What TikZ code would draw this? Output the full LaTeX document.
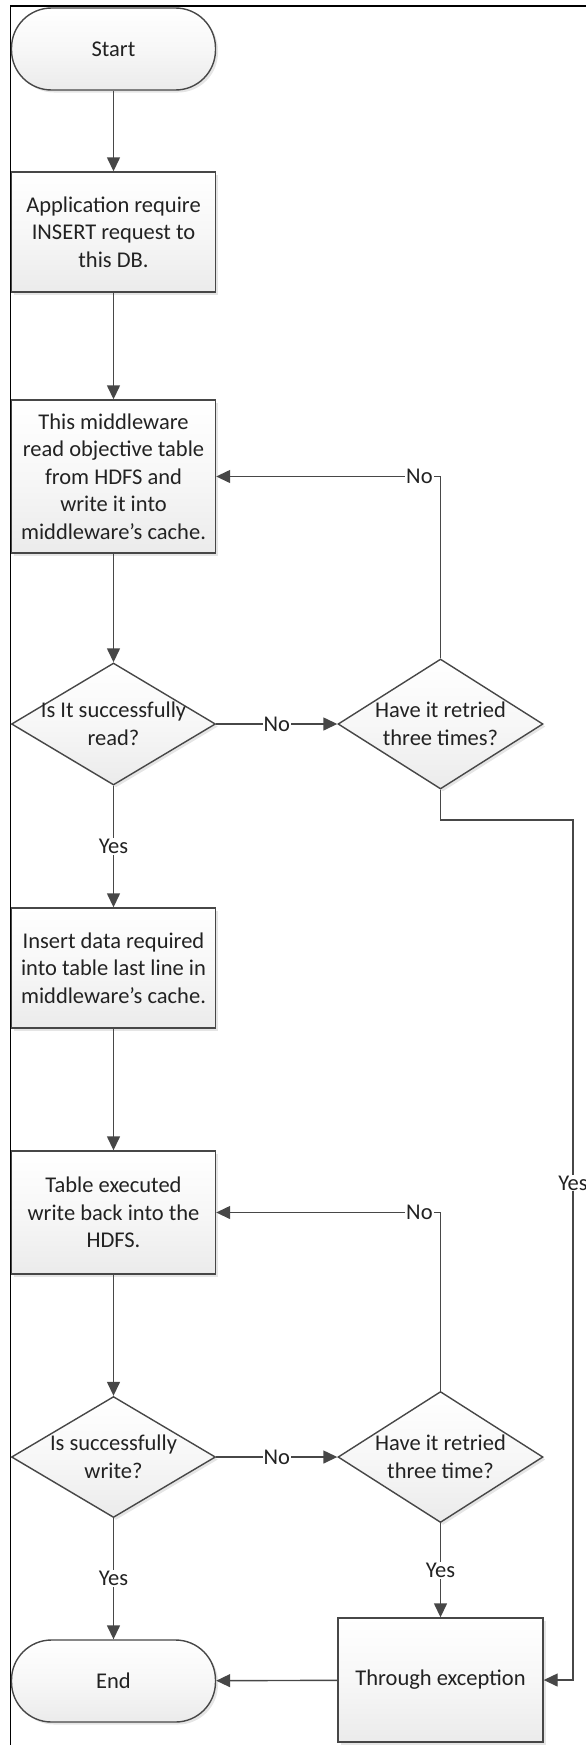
\documentclass[tikz,border=0pt]{standalone}
\usepackage{fontspec}
\setmainfont{Carlito}
\usetikzlibrary{shapes.geometric,arrows.meta,shadows}
\definecolor{edge}{HTML}{474747}
\definecolor{ink}{HTML}{222222}
\definecolor{fillbot}{HTML}{EBEBEB}
\newcommand{\flowfont}{\fontsize{22.5}{27.5}\selectfont}
\tikzset{
  base/.style={draw=edge, line width=1.4pt, top color=white, bottom color=fillbot,
    middle color=white!60!fillbot,
    text=ink, font=\flowfont,
    drop shadow={shadow xshift=2.5pt, shadow yshift=-2.5pt, fill=black, opacity=0.10}},
  procbox/.style={base, rectangle, minimum width=204pt, minimum height=#1,
    align=center, inner sep=0pt},
  termbox/.style={base, rectangle, rounded corners=40pt, minimum width=204pt,
    minimum height=82pt, inner sep=0pt},
  decbox/.style 2 args={base, diamond, minimum width=#1, minimum height=#2, inner sep=0pt},
  dectext/.style={text=ink, font=\flowfont, align=center, inner sep=0pt},
  flow/.style={draw=edge, line width=1.4pt, -{Triangle[length=14pt,width=13pt]}},
  lbl/.style={fill=white, text=ink, font=\flowfont, inner sep=1pt},
}
\begin{document}
\begin{tikzpicture}[x=1pt,y=-1pt]
\useasboundingbox (0,0) rectangle (586,1745);
% outer frame (top and left edges)
\draw[black, line width=1.5pt] (10.5,1745) -- (10.5,6) -- (586,6);

% left column
\node[termbox] (start) at (113.5,49) {Start};
\node[procbox=120pt] (b1) at (113.5,232) {Application require\\INSERT request to\\this DB.};
\node[procbox=153pt] (b2) at (113.5,476.5) {This middleware\\read objective table\\from HDFS and\\write it into\\middleware’s cache.};
\node[decbox={204pt}{122pt}] (d1) at (113.5,724) {};
\node[dectext] (d1t) at (113.5,724) {Is It successfully\\read?};
\node[procbox=120pt] (b3) at (113.5,968) {Insert data required\\into table last line in\\middleware’s cache.};
\node[procbox=123pt] (b4) at (113.5,1212.5) {Table executed\\write back into the\\HDFS.};
\node[decbox={204pt}{121pt}] (d3) at (113.5,1457) {};
\node[dectext] (d3t) at (113.5,1457) {Is successfully\\write?};
\node[termbox] (endn) at (113.5,1681) {End};

% right column
\node[decbox={205pt}{130pt}] (d2) at (440.5,724) {};
\node[dectext] (d2t) at (440.5,724) {Have it retried\\three times?};
\node[decbox={205pt}{131pt}] (d4) at (440.5,1457) {};
\node[dectext] (d4t) at (440.5,1457) {Have it retried\\three time?};
\node[procbox=124pt, minimum width=205pt] (exc) at (440.5,1680) {Through exception};

\coordinate (r1) at (573,820);

% connectors
\draw[flow] (start) -- (b1);
\draw[flow] (b1) -- (b2);
\draw[flow] (b2) -- (d1);
\draw[flow] (d1) -- node[lbl]{No} (d2);
\draw[flow] (d2.north) |- node[lbl, pos=0.547]{No} (b2.east);
\draw[flow] (d1.south) -- node[lbl]{Yes} (b3.north);
\draw[flow] (b3) -- (b4);
\draw[flow] (b4) -- (d3);
\draw[flow] (d3) -- node[lbl]{No} (d4);
\draw[flow] (d4.north) |- node[lbl, pos=0.547]{No} (b4.east);
\draw[flow] (d3.south) -- node[lbl]{Yes} (endn.north);
\draw[flow] (d4.south) -- node[lbl]{Yes} (exc.north);
\draw[flow] (exc) -- (endn);
\draw[flow] (d2.south) |- (r1) -- node[lbl, pos=0.422]{Yes} (r1 |- exc.east) -- (exc.east);
\end{tikzpicture}
\end{document}
